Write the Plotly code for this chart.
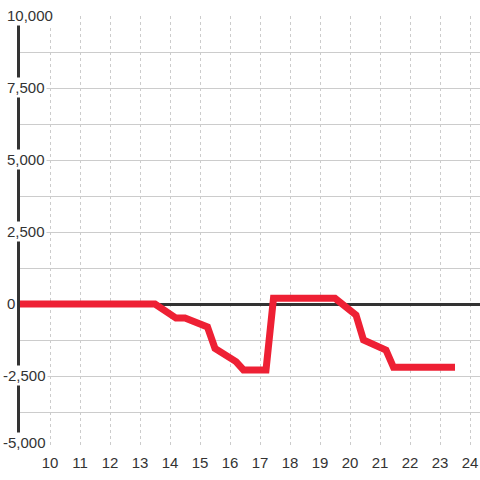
import plotly.graph_objects as go

# Data
hours = [9, 13.5, 14.2, 14.5, 15.25, 15.5, 16.2, 16.45, 17.2, 17.45, 19.5, 20.2, 20.45, 21.2, 21.45, 23.5]
values = [0, 0, -490, -490, -800, -1540, -2000, -2290, -2290, 200, 200, -380, -1250, -1600, -2200, -2200]

y_tick_vals = [10000, 7500, 5000, 2500, 0, -2500, -5000]
y_tick_text = ["10,000", "7,500", "5,000", "2,500", "0", "-2,500", "-5,000"]
x_tick_vals = list(range(10, 25))

FONT = "Liberation Sans, Arial, sans-serif"
TXT = "#333333"

fig = go.Figure()
fig.add_trace(go.Scatter(
    x=hours, y=values, mode="lines",
    line=dict(color="#ee2034", width=7),
    hoverinfo="skip", showlegend=False,
))

for v, t in zip(y_tick_vals, y_tick_text):
    neg = t.startswith("-")
    fig.add_annotation(
        x=-0.042 if neg else -0.033, xref="paper", xanchor="left",
        y=v, yref="y", yanchor="middle",
        yshift=6 if v == -5000 else 1,
        text=t, showarrow=False, bgcolor="white", borderpad=1,
        font=dict(family=FONT, size=15, color=TXT),
    )

fig.update_layout(
    width=480, height=480,
    margin=dict(l=20, r=0, t=16, b=32),
    plot_bgcolor="white", paper_bgcolor="white",
    font=dict(family=FONT, size=15, color=TXT),
    showlegend=False,
    xaxis=dict(
        range=[9, 24.3333], tickvals=x_tick_vals, ticktext=[str(v) for v in x_tick_vals],
        showgrid=True, gridcolor="#cccccc", gridwidth=1, griddash="3px,3px",
        zeroline=False, showline=False, ticks="",
        ticklabelstandoff=4,
        tickfont=dict(family=FONT, size=15, color=TXT),
    ),
    yaxis=dict(
        range=[-5000, 10000], tick0=0, dtick=1250,
        showticklabels=False, ticks="",
        showgrid=True, gridcolor="#cccccc", gridwidth=1,
        zeroline=True, zerolinecolor="#333333", zerolinewidth=3,
        showline=True, linecolor="#333333", linewidth=3,
        layer="below traces",
    ),
)

fig.write_html(
    "out.html",
    config={"displayModeBar": False},
    post_script="document.body.style.margin='0';document.body.style.padding='0';",
)
